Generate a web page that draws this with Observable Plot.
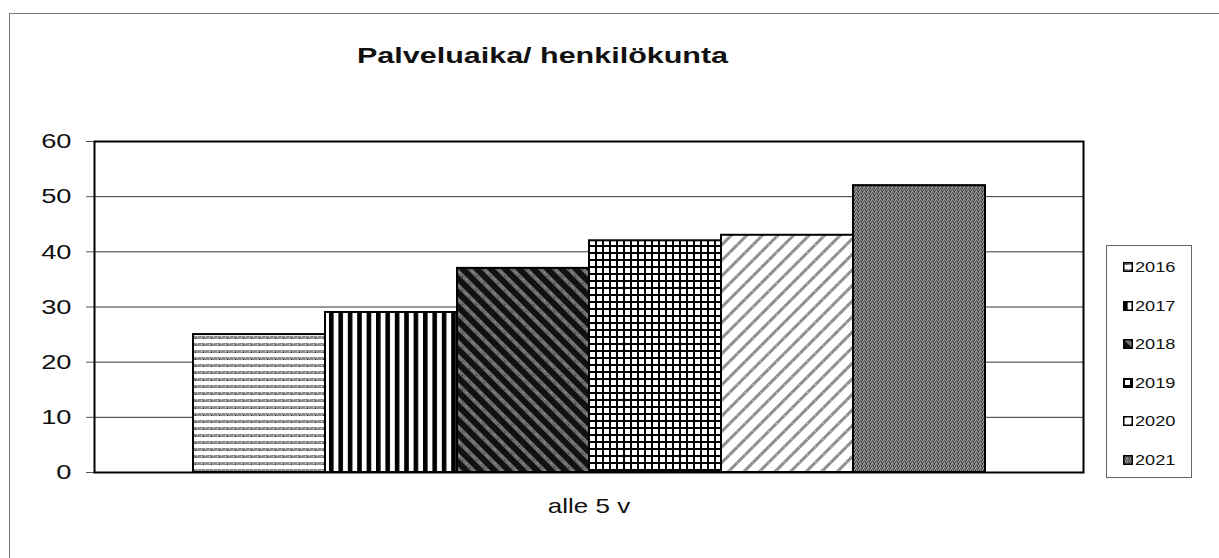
<!DOCTYPE html>
<html>
<head>
<meta charset="utf-8">
<script src="https://cdn.jsdelivr.net/npm/d3@7"></script>
<script src="https://cdn.jsdelivr.net/npm/@observablehq/plot@0.6"></script>
<style>
  html, body { margin: 0; padding: 0; background: #fff; }
  body { width: 1219px; height: 558px; position: relative; overflow: hidden; font-family: Arial, "Liberation Sans", sans-serif; }
  #outer { position: absolute; left: 9px; top: 13px; width: 1230px; height: 560px; border-left: 1px solid #777; border-top: 1px solid #777; box-sizing: border-box; pointer-events: none; }
  #title { position: absolute; left: 357px; top: 43px; font-size: 22.5px; font-weight: bold; color: #111; white-space: nowrap; transform: scaleX(1.355); transform-origin: 0 0; }
  #legend { position: absolute; left: 1106px; top: 245px; width: 86px; height: 233px; border: 1px solid #666; box-sizing: border-box; background: #fff; }
  .item { position: absolute; left: 16px; height: 18px; display: flex; align-items: center; font-size: 14px; color: #111; }
  .item span { display: inline-block; transform: scaleX(1.3); transform-origin: 0 50%; }
  .item svg { margin-right: 2px; }
  #chart { position: absolute; left: 0; top: 0; }
</style>
</head>
<body>
<div id="outer"></div>
<div id="chart"></div>
<div id="title">Palveluaika/ henkilökunta</div>
<div id="legend"></div>
<script>
const categories = ["alle 5 v"];
const years = ["2016", "2017", "2018", "2019", "2020", "2021"];
const values = [25, 29, 37, 42, 43, 52];
const yTicks = [0, 10, 20, 30, 40, 50, 60];
const patternIds = ["p2016", "p2017", "p2018", "p2019", "p2020", "p2021"];

const data = years.map((y, i) => ({year: y, value: values[i], category: categories[0]}));

const svg = Plot.plot({
  width: 1219,
  height: 558,
  marginLeft: 94,
  marginRight: 136,
  marginTop: 141,
  marginBottom: 86,
  style: {fontFamily: "Arial, 'Liberation Sans', sans-serif", background: "transparent", color: "#111"},
  x: {domain: years, paddingInner: 0, paddingOuter: 0.74, axis: null},
  y: {domain: [0, 60], ticks: yTicks, axis: null},
  color: {domain: years, range: patternIds.map(id => `url(#${id})`)},
  marks: [
    Plot.gridY(yTicks, {stroke: "#333", strokeOpacity: 1, strokeWidth: 1}),
    Plot.axisY({ticks: yTicks, tickSize: 8, tickPadding: 15, fontSize: 21, label: null, stroke: "#555"}),
    Plot.barY(data, {x: "year", y: "value", fill: "year", stroke: "#000", strokeWidth: 2}),
    Plot.frame({stroke: "#000", strokeWidth: 2}),
    Plot.text(categories, {text: d => d, frameAnchor: "bottom", dy: 40, fontSize: 20, fill: "#111"})
  ]
});

// Horizontal stretch of text to match the scanned original's aspect
d3.select(svg).selectAll("text").each(function() {
  const t = d3.select(this);
  const T = t.attr("transform") || "";
  const X = t.attr("x") || 0;
  t.attr("x", null).attr("transform", `${T} translate(${X},0) scale(1.3,1)`);
});

// Pattern definitions (styles only)
const defs = d3.select(svg).insert("defs", ":first-child");
function pat(id, w, h, transform) {
  const p = defs.append("pattern").attr("id", id).attr("patternUnits", "userSpaceOnUse")
    .attr("width", w).attr("height", h);
  if (transform) p.attr("patternTransform", transform);
  return p;
}
// 2016 horizontal stippled lines
let p = pat("p2016", 8, 7);
p.append("rect").attr("width", 8).attr("height", 7).attr("fill", "#fff");
p.append("rect").attr("y", 0).attr("width", 8).attr("height", 3).attr("fill", "#8c8c8c");
p.append("rect").attr("x", 1).attr("y", 1).attr("width", 1).attr("height", 1).attr("fill", "#e0e0e0");
p.append("rect").attr("x", 5).attr("y", 0).attr("width", 1).attr("height", 1).attr("fill", "#e0e0e0");
p.append("rect").attr("x", 3).attr("y", 2).attr("width", 1).attr("height", 1).attr("fill", "#333");
// 2017 vertical black stripes
p = pat("p2017", 9.4, 10);
p.append("rect").attr("width", 9.4).attr("height", 10).attr("fill", "#fff");
p.append("rect").attr("width", 4.6).attr("height", 10).attr("fill", "#000");
// 2018 dark with gray diagonal stipple stripes (\)
p = pat("p2018", 10, 10, "rotate(-45)");
p.append("rect").attr("width", 10).attr("height", 10).attr("fill", "#111");
p.append("rect").attr("width", 4).attr("height", 10).attr("fill", "#6e6e6e");
p.append("rect").attr("x", 1).attr("y", 2).attr("width", 1).attr("height", 1).attr("fill", "#222");
p.append("rect").attr("x", 2).attr("y", 7).attr("width", 1).attr("height", 1).attr("fill", "#aaa");
// 2019 grid
p = pat("p2019", 7, 7);
p.append("rect").attr("width", 7).attr("height", 7).attr("fill", "#fff");
p.append("rect").attr("width", 7).attr("height", 2).attr("fill", "#000");
p.append("rect").attr("width", 2).attr("height", 7).attr("fill", "#000");
// 2020 light diagonal stripes (/)
p = pat("p2020", 11, 11, "rotate(45)");
p.append("rect").attr("width", 11).attr("height", 11).attr("fill", "#fff");
p.append("rect").attr("width", 3).attr("height", 11).attr("fill", "#8f8f8f");
p.append("rect").attr("x", 1).attr("y", 3).attr("width", 1).attr("height", 1).attr("fill", "#ddd");
// 2021 stippled gray
p = pat("p2021", 4, 4);
const greys = ["#5a5a5a", "#8a8a8a", "#474747", "#9a9a9a", "#7a7a7a", "#3a3a3a", "#aaa", "#676767",
               "#8a8a8a", "#575757", "#7a7a7a", "#4a4a4a", "#a0a0a0", "#6a6a6a", "#404040", "#909090"];
greys.forEach((g, i) => p.append("rect").attr("x", i % 4).attr("y", Math.floor(i / 4)).attr("width", 1).attr("height", 1).attr("fill", g));

document.getElementById("chart").appendChild(svg);

// Legend
const legend = document.getElementById("legend");
years.forEach((y, i) => {
  const item = document.createElement("div");
  item.className = "item";
  item.style.top = (12 + i * 38.6) + "px";
  item.innerHTML = `<svg width="10" height="10"><rect x="0.75" y="0.75" width="8.5" height="8.5" fill="url(#${patternIds[i]})" stroke="#000" stroke-width="1.5"/></svg><span>${y}</span>`;
  legend.appendChild(item);
});
</script>
</body>
</html>
